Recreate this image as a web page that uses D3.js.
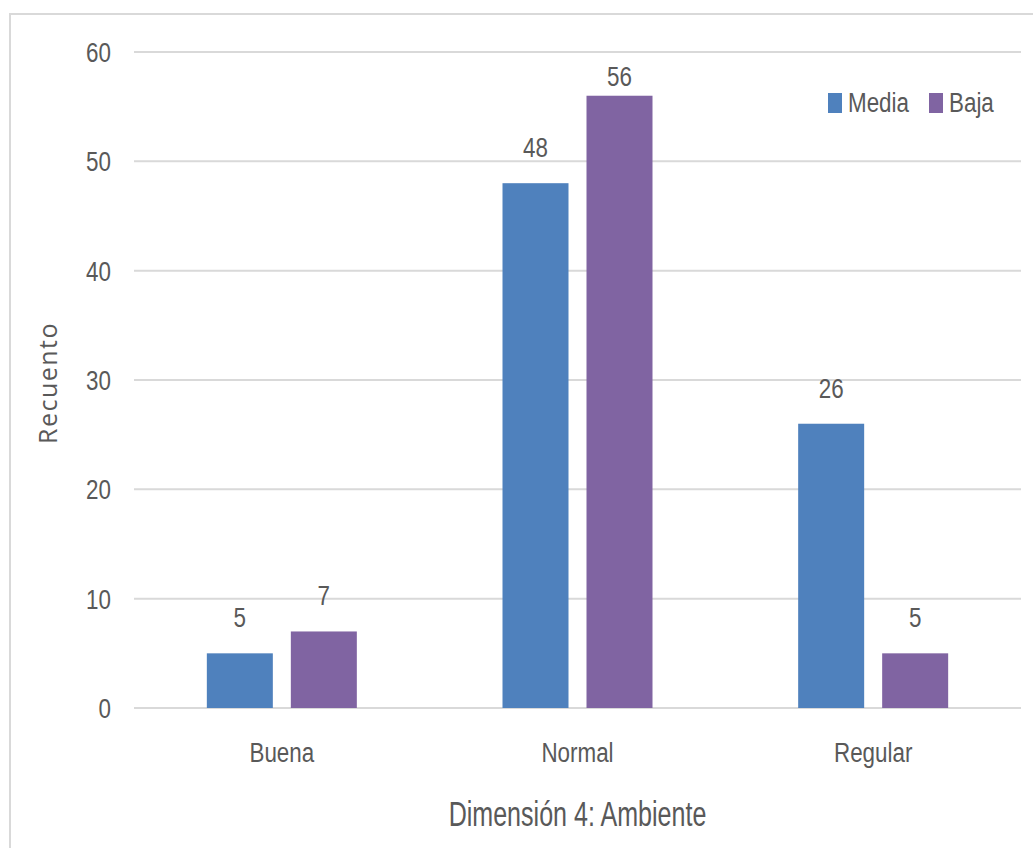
<!DOCTYPE html>
<html>
<head>
<meta charset="utf-8">
<script src="https://cdn.jsdelivr.net/npm/d3@7"></script>
<style>
  html, body { margin: 0; padding: 0; background: #fff; }
  svg { display: block; }
  text { fill: #595959; font-family: "Liberation Sans", Arial, sans-serif; }
</style>
</head>
<body>
<svg id="chart" width="1033" height="848"></svg>
<script>
const categories = ["Buena", "Normal", "Regular"];
const seriesNames = ["Media", "Baja"];
const media = [5, 48, 26];
const baja = [7, 56, 5];
const yTicks = [0, 10, 20, 30, 40, 50, 60];
const colors = ["#4F81BD", "#8064A2"];
const xTitle = "Dimensión 4: Ambiente";
const yTitle = "Recuento";

const seriesValues = [media, baja];
const svg = d3.select("#chart");

// narrow text helper (simulates a condensed face)
function ntext(sel, x, y, sx, sy) {
  return sel.attr("transform", `translate(${x},${y}) scale(${sx},${sy})`);
}

// chart border
svg.append("rect")
  .attr("x", 10).attr("y", 14)
  .attr("width", 1040).attr("height", 860)
  .attr("fill", "none").attr("stroke", "#d9d9d9").attr("stroke-width", 2);

const plot = { left: 134, right: 1021, top: 52, bottom: 708 };

const x0 = d3.scaleBand().domain(categories).range([plot.left, plot.right]).padding(0);
const y = d3.scaleLinear().domain([0, 60]).range([plot.bottom, plot.top]);

// gridlines
svg.append("g").selectAll("line").data(yTicks).join("line")
  .attr("x1", plot.left).attr("x2", plot.right)
  .attr("y1", d => y(d)).attr("y2", d => y(d))
  .attr("stroke", "#d9d9d9").attr("stroke-width", 2);

// y tick labels
svg.append("g").selectAll("text").data(yTicks).join("text")
  .each(function(d) { ntext(d3.select(this), 111, y(d) + 10, 0.8, 1); })
  .attr("text-anchor", "end")
  .style("font-size", "28px")
  .text(d => d);

// bars
const groups = svg.append("g").selectAll("g").data(categories).join("g");
groups.each(function(cat, ci) {
  const c = x0(cat) + x0.bandwidth() / 2;
  const x1 = d3.scaleBand().domain(seriesNames).range([c - 75, c + 75]).paddingInner(0.2143).paddingOuter(0);
  const g = d3.select(this);
  seriesNames.forEach((s, si) => {
    const v = seriesValues[si][ci];
    g.append("rect")
      .attr("x", x1(s)).attr("y", y(v))
      .attr("width", x1.bandwidth()).attr("height", y(0) - y(v))
      .attr("fill", colors[si]);
    const ly = Math.max(y(v) - 26, plot.top + 34);
    ntext(g.append("text"), x1(s) + x1.bandwidth() / 2, ly, 0.8, 1)
      .attr("text-anchor", "middle")
      .style("font-size", "28px")
      .text(v);
  });
  ntext(g.append("text"), c, 762, 0.8, 1)
    .attr("text-anchor", "middle")
    .style("font-size", "28px")
    .text(cat);
});

// x axis title
ntext(svg.append("text"), (plot.left + plot.right) / 2, 826, 0.76, 1.08)
  .attr("text-anchor", "middle")
  .style("font-size", "33px")
  .text(xTitle);

// y axis title
svg.append("text")
  .attr("transform", "translate(57,383) rotate(-90)")
  .attr("text-anchor", "middle")
  .style("font-family", "'Open Sans', sans-serif")
  .style("font-size", "25px")
  .style("letter-spacing", "1.5px")
  .text(yTitle);

// legend
const legendX = [828, 929];
const leg = svg.append("g").selectAll("g").data(seriesNames).join("g");
leg.append("rect")
  .attr("x", (d, i) => legendX[i]).attr("y", 93)
  .attr("width", 14).attr("height", 20)
  .attr("fill", (d, i) => colors[i]);
leg.append("text")
  .each(function(d, i) { ntext(d3.select(this), legendX[i] + 20, 112, 0.8, 1); })
  .style("font-size", "28px")
  .text(d => d);
</script>
</body>
</html>
